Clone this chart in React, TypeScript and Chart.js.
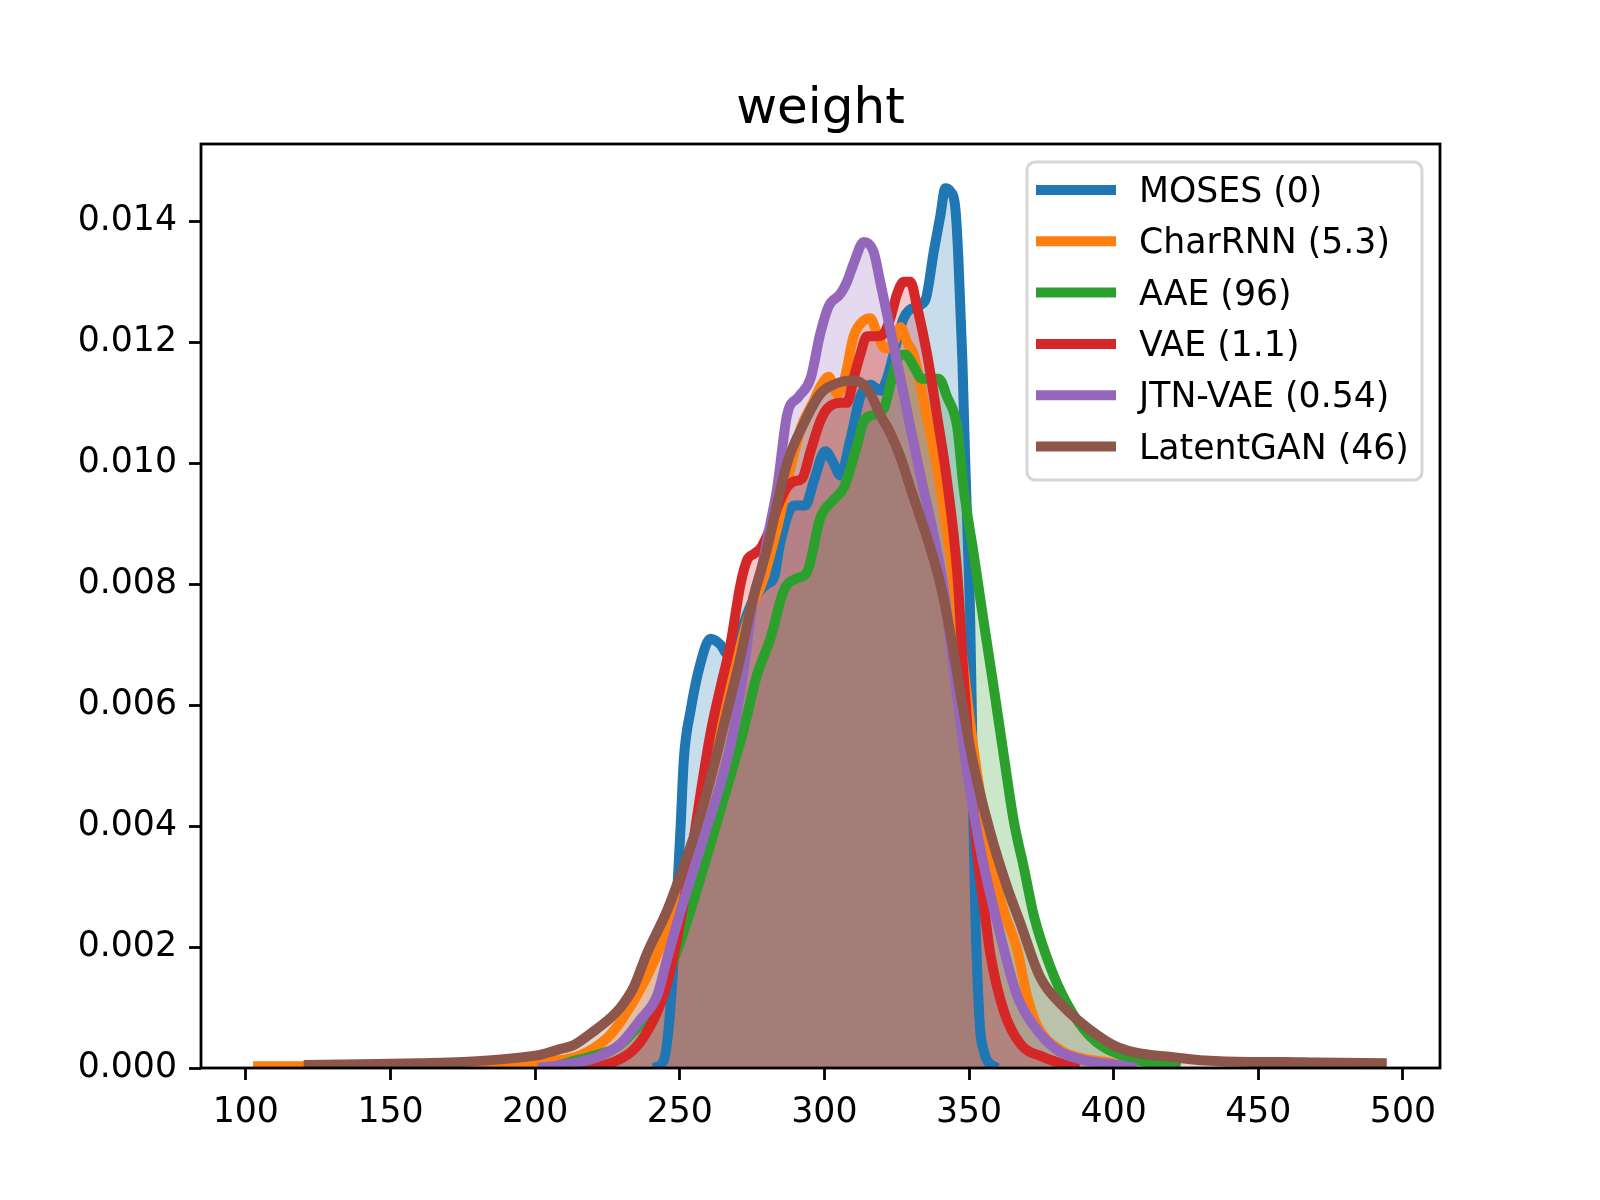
import { useEffect, useRef } from 'react';
import { Chart, registerables } from 'chart.js';

Chart.register(...registerables);

const titleText = 'weight';

const seriesNames = ['MOSES (0)', 'CharRNN (5.3)', 'AAE (96)', 'VAE (1.1)', 'JTN-VAE (0.54)', 'LatentGAN (46)'];
const seriesColors = ['#1f77b4', '#ff7f0e', '#2ca02c', '#d62728', '#9467bd', '#8c564b'];

const xTicks = [100, 150, 200, 250, 300, 350, 400, 450, 500];
const yTicks = [0, 0.002, 0.004, 0.006, 0.008, 0.01, 0.012, 0.014];

// density curves (x = weight, y = density)
const mosesX = [241, 244.5, 246.2, 247.9, 249.1, 250.3, 251.4, 253.7, 257.2, 260.6, 264.1, 266.4, 270, 275, 280, 282.5, 284.8, 289.4, 293.4, 296.3, 300.3, 303.2, 305.5, 309, 312.4, 315.9, 319.3, 321.6, 323.9, 327.4, 332, 334.9, 337.8, 340.1, 341.8, 343.5, 345.3, 346.3, 347.7, 348.7, 349.3, 350.4, 351, 351.5, 352.2, 353, 353.9, 355, 356.2, 359.6];
const mosesY = [0, 0.00013, 0.00068, 0.0018, 0.0029, 0.004, 0.0051, 0.0059, 0.0067, 0.0071, 0.007, 0.00685, 0.0071, 0.0077, 0.008, 0.0081, 0.0087, 0.0093, 0.0093, 0.0097, 0.0102, 0.01, 0.0098, 0.0104, 0.0111, 0.0113, 0.0112, 0.0114, 0.0118, 0.0124, 0.0126, 0.0127, 0.0135, 0.0141, 0.01455, 0.0145, 0.0142, 0.0134, 0.0117, 0.01, 0.0091, 0.0074, 0.0058, 0.0041, 0.0025, 0.0014, 0.0006, 0.0003, 0.00013, 0];

const charX = [102.5, 120, 140, 160, 180, 200, 215, 225, 230, 237.5, 245, 252.6, 261.8, 268, 274, 279, 281.3, 284, 288.2, 292, 296, 299, 301.5, 304.4, 307, 310.1, 313.6, 315.9, 318.5, 321, 324, 326.3, 328.6, 330.9, 333.2, 336.6, 340.1, 343.5, 347, 351.5, 358.4, 362, 366.7, 370, 373.6, 381.5, 390, 397.8, 405];
const charY = [0.00003, 0.00003, 0.00004, 0.00005, 0.00007, 0.0001, 0.0002, 0.0005, 0.0008, 0.0014, 0.0022, 0.0032, 0.0051, 0.0064, 0.0075, 0.0081, 0.0085, 0.009, 0.0099, 0.0106, 0.011, 0.0113, 0.01143, 0.01115, 0.0114, 0.0121, 0.01236, 0.0124, 0.0121, 0.0119, 0.012, 0.01225, 0.012, 0.0118, 0.0113, 0.0105, 0.0096, 0.0085, 0.0071, 0.0053, 0.0033, 0.0026, 0.00195, 0.0012, 0.0007, 0.0003, 0.00015, 0.0001, 0];

const aaeX = [205, 212, 219.2, 228.4, 234, 240, 248, 253.7, 260.6, 266.4, 272.1, 276.7, 281.3, 286, 290.6, 294, 298.6, 303.2, 306.7, 311.3, 313.6, 317, 320.5, 322.8, 325.1, 327.9, 330.9, 333.7, 336.6, 339.5, 342.4, 345.9, 348.1, 351.6, 355, 358.5, 361.9, 365.4, 369, 372.5, 378.1, 383.8, 391.9, 401.1, 412.6, 423];
const aaeY = [0, 0.0001, 0.00019, 0.00035, 0.0006, 0.00096, 0.0018, 0.0026, 0.0037, 0.00465, 0.0056, 0.0065, 0.0071, 0.0079, 0.0081, 0.0082, 0.0091, 0.0094, 0.0096, 0.0103, 0.0107, 0.0108, 0.0109, 0.0113, 0.0117, 0.0118, 0.0116, 0.0114, 0.0114, 0.0114, 0.0111, 0.0106, 0.0096, 0.0085, 0.0074, 0.0063, 0.0052, 0.0041, 0.0033, 0.0025, 0.00167, 0.00107, 0.00052, 0.00024, 0.00008, 0];

const vaeX = [215, 222.6, 229.5, 234, 238.7, 243.4, 246.8, 250.3, 253.7, 257.2, 260.6, 264.1, 267.5, 271, 273.3, 275.6, 278, 281, 284, 287, 289.4, 292.3, 295.2, 298.6, 300.9, 305.5, 307.8, 310.1, 312.4, 314.7, 318.2, 320.5, 322.8, 325.1, 327.4, 329.7, 332, 335.5, 338.9, 342.4, 345.9, 348.1, 350.4, 352.7, 355.6, 357.3, 361.9, 367.7, 375.7, 383.9, 388];
const vaeY = [0, 0.00003, 0.00015, 0.0003, 0.0006, 0.00107, 0.00162, 0.00245, 0.00344, 0.00454, 0.00553, 0.0063, 0.007, 0.008, 0.0084, 0.0085, 0.0086, 0.0089, 0.0093, 0.0096, 0.0097, 0.00975, 0.0102, 0.0107, 0.0109, 0.011, 0.011, 0.0114, 0.0118, 0.0121, 0.0121, 0.01214, 0.0124, 0.0128, 0.013, 0.013, 0.0126, 0.0118, 0.0108, 0.0097, 0.0082, 0.0065, 0.005, 0.0036, 0.0025, 0.0019, 0.00096, 0.0004, 0.00018, 0.00005, 0];

const jtnX = [201, 213.4, 222.6, 229.5, 236.4, 242.2, 245.6, 250.3, 254.9, 259.5, 264.1, 268.7, 272.1, 275.6, 278, 281.3, 283.7, 287.1, 291.1, 295.2, 298.6, 301.5, 305.5, 307.8, 310.1, 313.6, 317, 319.3, 322.8, 326.3, 329.7, 333.2, 337.8, 341, 344.7, 349.3, 354, 360.8, 366.6, 372.4, 380.4, 389.6, 400, 408];
const jtnY = [0, 0.00008, 0.0002, 0.0004, 0.0008, 0.0012, 0.0018, 0.0026, 0.0033, 0.004, 0.0047, 0.0056, 0.0066, 0.0078, 0.0082, 0.009, 0.0096, 0.0108, 0.0111, 0.0114, 0.01215, 0.0126, 0.0128, 0.013, 0.0133, 0.01366, 0.0135, 0.013, 0.0122, 0.0114, 0.0106, 0.0098, 0.0088, 0.008, 0.0066, 0.0049, 0.0036, 0.0022, 0.0012, 0.0007, 0.0003, 0.00013, 0.00006, 0];

const latX = [120, 140, 160, 175, 185, 196, 202, 207.7, 213.4, 219.2, 224.9, 229.5, 234.1, 238.7, 245.6, 250.3, 256, 261.8, 266.4, 271, 275, 280.2, 287.1, 292.9, 298.6, 303.2, 309, 312.4, 315.9, 319.3, 322.8, 326.3, 329.7, 333.2, 336.6, 340.1, 343.5, 347, 351.6, 357.3, 363.1, 367.7, 374.6, 382.7, 391.9, 401.1, 409.2, 418.4, 429.9, 447.2, 458.6, 470.2, 494.4];
const latY = [0.00005, 0.00006, 0.00008, 0.0001, 0.00013, 0.00018, 0.00022, 0.0003, 0.00038, 0.00057, 0.00078, 0.001, 0.00134, 0.0019, 0.0026, 0.0032, 0.004, 0.005, 0.0059, 0.0068, 0.0077, 0.0086, 0.01, 0.01066, 0.01115, 0.0113, 0.01137, 0.01134, 0.01115, 0.0108, 0.0105, 0.0101, 0.0096, 0.0091, 0.0086, 0.008, 0.0072, 0.0062, 0.005, 0.0039, 0.003, 0.0024, 0.0015, 0.00101, 0.00063, 0.00035, 0.00024, 0.00019, 0.00013, 0.0001, 0.0001, 0.00009, 0.00008];

const seriesX = [mosesX, charX, aaeX, vaeX, jtnX, latX];
const seriesY = [mosesY, charY, aaeY, vaeY, jtnY, latY];

const fontFamily = '"DejaVu Sans", sans-serif';

function withAlpha(hex: string, alpha: number) {
  const r = parseInt(hex.slice(1, 3), 16);
  const g = parseInt(hex.slice(3, 5), 16);
  const b = parseInt(hex.slice(5, 7), 16);
  return `rgba(${r}, ${g}, ${b}, ${alpha})`;
}

// axes frame, title and an in-plot legend like matplotlib's
const decorPlugin = {
  id: 'decor',
  afterDraw(chart: Chart) {
    const { ctx, chartArea } = chart;
    const { left, right, top, bottom } = chartArea;
    ctx.save();

    ctx.strokeStyle = '#000';
    ctx.lineWidth = 2.8;
    ctx.strokeRect(left, top, right - left, bottom - top);

    ctx.fillStyle = '#000';
    ctx.font = `50px ${fontFamily}`;
    ctx.textAlign = 'center';
    ctx.textBaseline = 'alphabetic';
    ctx.fillText(titleText, (left + right) / 2, top - 21);

    const boxLeft = right - 413;
    const boxTop = top + 18;
    const boxW = 395;
    const boxH = 318;
    ctx.beginPath();
    ctx.roundRect(boxLeft, boxTop, boxW, boxH, 8);
    ctx.fillStyle = 'rgba(255, 255, 255, 0.8)';
    ctx.fill();
    ctx.strokeStyle = 'rgba(204, 204, 204, 0.8)';
    ctx.lineWidth = 3;
    ctx.stroke();

    ctx.font = `34.7px ${fontFamily}`;
    ctx.textAlign = 'left';
    seriesNames.forEach((name, i) => {
      const y = boxTop + 28 + i * 51.3;
      ctx.strokeStyle = seriesColors[i];
      ctx.lineWidth = 10;
      ctx.lineCap = 'butt';
      ctx.beginPath();
      ctx.moveTo(boxLeft + 9, y);
      ctx.lineTo(boxLeft + 89, y);
      ctx.stroke();
      ctx.fillStyle = '#000';
      ctx.fillText(name, boxLeft + 112, y + 12);
    });

    ctx.restore();
  }
};

export default function App() {
  const canvasRef = useRef<HTMLCanvasElement | null>(null);

  useEffect(() => {
    const node = canvasRef.current;
    if (!node) {
      return;
    }

    const datasets = seriesNames.map((name, i) => ({
      label: name,
      data: seriesX[i].map((x, j) => ({ x, y: seriesY[i][j] })),
      borderColor: seriesColors[i],
      backgroundColor: withAlpha(seriesColors[i], 0.25),
      borderWidth: 10,
      borderJoinStyle: 'round' as const,
      borderCapStyle: 'butt' as const,
      cubicInterpolationMode: 'monotone' as const,
      fill: 'origin',
      pointRadius: 0,
      clip: 0,
      order: seriesNames.length - i
    }));

    const tickFont = { family: fontFamily, size: 34.7 };

    const chart = new Chart(node, {
      type: 'line',
      data: { datasets },
      options: {
        responsive: false,
        animation: false,
        devicePixelRatio: 1,
        layout: { padding: { left: 0, top: 144, right: 160, bottom: 0 } },
        plugins: {
          legend: { display: false },
          title: { display: false },
          tooltip: { enabled: false },
          filler: { drawTime: 'beforeDatasetsDraw' }
        },
        scales: {
          x: {
            type: 'linear',
            min: 84.5,
            max: 512.8,
            afterBuildTicks: (axis: any) => {
              axis.ticks = xTicks.map((value) => ({ value }));
            },
            afterFit: (axis: any) => {
              axis.height = 132;
            },
            border: { display: false },
            grid: { drawOnChartArea: false, tickLength: 12, tickColor: '#000', tickWidth: 2.8 },
            ticks: {
              autoSkip: false,
              maxRotation: 0,
              padding: 12,
              color: '#000',
              font: tickFont,
              callback: (value: any) => String(value)
            }
          },
          y: {
            type: 'linear',
            min: 0,
            max: 0.01528,
            afterBuildTicks: (axis: any) => {
              axis.ticks = yTicks.map((value) => ({ value }));
            },
            afterFit: (axis: any) => {
              axis.width = 201;
            },
            border: { display: false },
            grid: { drawOnChartArea: false, tickLength: 12, tickColor: '#000', tickWidth: 2.8 },
            ticks: {
              autoSkip: false,
              padding: 12,
              color: '#000',
              font: tickFont,
              callback: (value: any) => Number(value).toFixed(3)
            }
          }
        }
      },
      plugins: [decorPlugin]
    });

    return () => {
      chart.destroy();
    };
  }, []);

  return (
    <div style={{ position: 'absolute', left: 0, top: 0, width: 1600, height: 1200, background: '#fff' }}>
      <canvas ref={canvasRef} width={1600} height={1200} style={{ display: 'block', width: 1600, height: 1200 }} aria-label="weight density" role="img" />
    </div>
  );
}
